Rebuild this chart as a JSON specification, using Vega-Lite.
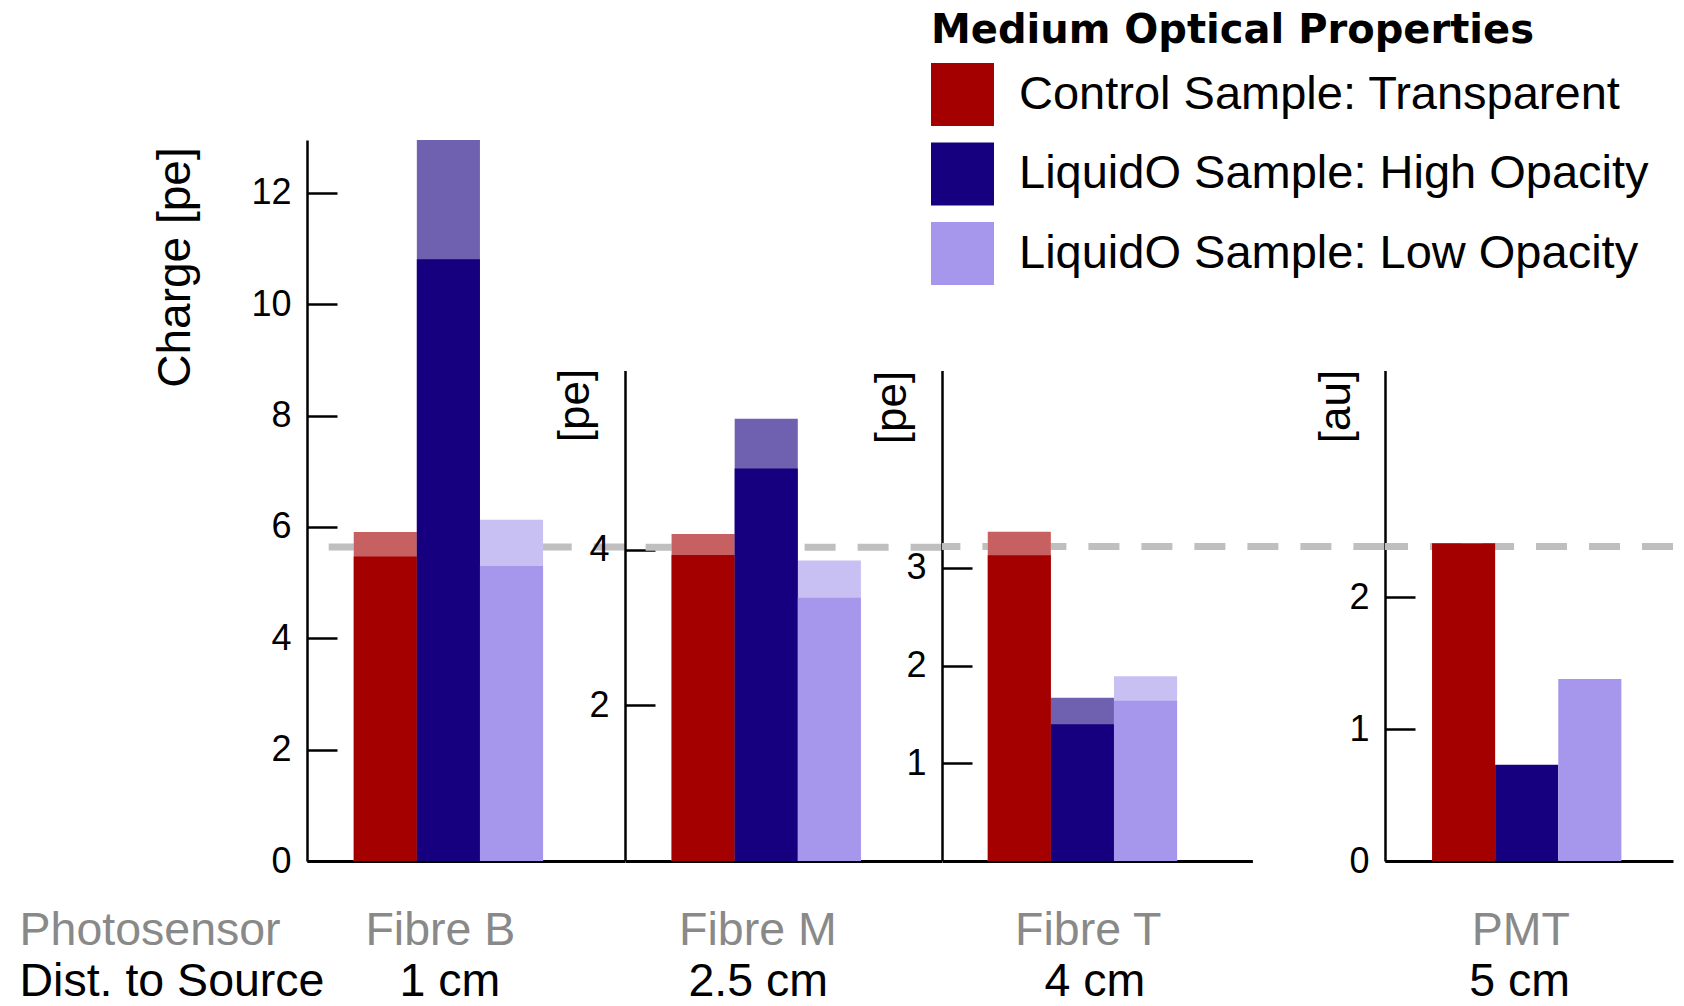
{
  "$schema": "https://vega.github.io/schema/vega-lite/v6.json",
  "padding": {"left": 16, "top": 11, "right": 0, "bottom": 0},
  "spacing": 0,
  "bounds": "flush",
  "datasets": {
    "bars": [
      {"sensor": "Fibre B", "sample": "Control Sample: Transparent", "charge": 5.47, "upper": 5.91},
      {"sensor": "Fibre B", "sample": "LiquidO Sample: High Opacity", "charge": 10.81, "upper": 13.0},
      {"sensor": "Fibre B", "sample": "LiquidO Sample: Low Opacity", "charge": 5.30, "upper": 6.13},
      {"sensor": "Fibre M", "sample": "Control Sample: Transparent", "charge": 3.93, "upper": 4.20},
      {"sensor": "Fibre M", "sample": "LiquidO Sample: High Opacity", "charge": 5.04, "upper": 5.68},
      {"sensor": "Fibre M", "sample": "LiquidO Sample: Low Opacity", "charge": 3.38, "upper": 3.86},
      {"sensor": "Fibre T", "sample": "Control Sample: Transparent", "charge": 3.13, "upper": 3.37},
      {"sensor": "Fibre T", "sample": "LiquidO Sample: High Opacity", "charge": 1.40, "upper": 1.67},
      {"sensor": "Fibre T", "sample": "LiquidO Sample: Low Opacity", "charge": 1.64, "upper": 1.89},
      {"sensor": "PMT", "sample": "Control Sample: Transparent", "charge": 2.41, "upper": null},
      {"sensor": "PMT", "sample": "LiquidO Sample: High Opacity", "charge": 0.73, "upper": null},
      {"sensor": "PMT", "sample": "LiquidO Sample: Low Opacity", "charge": 1.38, "upper": null}
    ],
    "ref": [
      {"sensor": "Fibre B", "level": 5.64},
      {"sensor": "Fibre M", "level": 4.03},
      {"sensor": "Fibre T", "level": 3.22},
      {"sensor": "PMT", "level": 2.385}
    ]
  },
  "hconcat": [
    {
      "width": 287.3,
      "height": 721,
      "data": {"values": [{"sensor": "Photosensor"}]},
      "mark": {"type": "point", "opacity": 0},
      "encoding": {
        "x": {"field": "sensor", "type": "nominal",
          "scale": {"type": "point", "padding": 0, "align": 0},
          "axis": {"domain": false, "labelAlign": "left", "title": "Dist. to Source", "titleX": 0, "titleAlign": "left"}}
      }
    },
    {
      "width": 317.7,
      "height": 721,
      "layer": [
        {
          "data": {"name": "ref"},
          "transform": [{"filter": "datum.sensor === 'Fibre B'"}],
          "mark": {"type": "rule", "color": "#bfbfbf", "strokeWidth": 7, "strokeDash": [31, 22]},
          "encoding": {
            "y": {"field": "level", "type": "quantitative", "scale": {"domain": [0, 12.95], "nice": false},
              "axis": {"values": [0, 2, 4, 6, 8, 10, 12], "format": "d", "title": "Charge [pe]", "titleX": -132, "titleY": 127, "titleFontSize": 46}}
          }
        },
        {
          "data": {"name": "bars"},
          "transform": [{"filter": "datum.sensor === 'Fibre B'"}],
          "mark": {"type": "bar", "clip": true, "color": "#ffffff"},
          "encoding": {
            "x": {"field": "sensor", "type": "nominal", "scale": {"paddingInner": 0, "paddingOuter": 0.339, "align": 0.364},
              "axis": {"title": "1 cm", "titleX": 142.3, "titleAlign": "center", "labelOffset": -8}},
            "xOffset": {"field": "sample", "type": "nominal", "scale": {"domain": ["Control Sample: Transparent", "LiquidO Sample: High Opacity", "LiquidO Sample: Low Opacity"], "paddingInner": 0, "paddingOuter": 0}},
            "y": {"field": "upper", "type": "quantitative", "scale": {"domain": [0, 12.95], "nice": false},
              "axis": {"values": [0, 2, 4, 6, 8, 10, 12], "format": "d", "title": "Charge [pe]", "titleX": -132, "titleY": 127, "titleFontSize": 46}}
          }
        },
        {
          "data": {"name": "bars"},
          "transform": [{"filter": "datum.sensor === 'Fibre B'"}],
          "mark": {"type": "bar", "clip": true, "opacity": 0.62},
          "encoding": {
            "x": {"field": "sensor", "type": "nominal", "scale": {"paddingInner": 0, "paddingOuter": 0.339, "align": 0.364},
              "axis": {"title": "1 cm", "titleX": 142.3, "titleAlign": "center", "labelOffset": -8}},
            "xOffset": {"field": "sample", "type": "nominal", "scale": {"domain": ["Control Sample: Transparent", "LiquidO Sample: High Opacity", "LiquidO Sample: Low Opacity"], "paddingInner": 0, "paddingOuter": 0}},
            "y": {"field": "upper", "type": "quantitative", "scale": {"domain": [0, 12.95], "nice": false},
              "axis": {"values": [0, 2, 4, 6, 8, 10, 12], "format": "d", "title": "Charge [pe]", "titleX": -132, "titleY": 127, "titleFontSize": 46}},
            "color": {"field": "sample", "type": "nominal", "title": "Medium Optical Properties",
              "scale": {"domain": ["Control Sample: Transparent", "LiquidO Sample: High Opacity", "LiquidO Sample: Low Opacity"], "range": ["#a50000", "#17007f", "#a797ec"]}}
          }
        },
        {
          "data": {"name": "bars"},
          "transform": [{"filter": "datum.sensor === 'Fibre B'"}],
          "mark": {"type": "bar", "clip": true},
          "encoding": {
            "x": {"field": "sensor", "type": "nominal", "scale": {"paddingInner": 0, "paddingOuter": 0.339, "align": 0.364},
              "axis": {"title": "1 cm", "titleX": 142.3, "titleAlign": "center", "labelOffset": -8}},
            "xOffset": {"field": "sample", "type": "nominal", "scale": {"domain": ["Control Sample: Transparent", "LiquidO Sample: High Opacity", "LiquidO Sample: Low Opacity"], "paddingInner": 0, "paddingOuter": 0}},
            "y": {"field": "charge", "type": "quantitative", "scale": {"domain": [0, 12.95], "nice": false},
              "axis": {"values": [0, 2, 4, 6, 8, 10, 12], "format": "d", "title": "Charge [pe]", "titleX": -132, "titleY": 127, "titleFontSize": 46}},
            "color": {"field": "sample", "type": "nominal", "title": "Medium Optical Properties",
              "scale": {"domain": ["Control Sample: Transparent", "LiquidO Sample: High Opacity", "LiquidO Sample: Low Opacity"], "range": ["#a50000", "#17007f", "#a797ec"]}}
          }
        }
      ]
    },
    {
      "width": 316.6,
      "height": 721,
      "layer": [
        {
          "data": {"name": "ref"},
          "transform": [{"filter": "datum.sensor === 'Fibre M'"}],
          "mark": {"type": "rule", "color": "#bfbfbf", "strokeWidth": 7, "strokeDash": [31, 22]},
          "encoding": {
            "y": {"field": "level", "type": "quantitative", "scale": {"domain": [0, 6.3], "nice": false, "range": [721, 230.5]},
              "axis": {"values": [2, 4], "format": "d", "title": "[pe]", "titleX": -50, "titleY": 265}}
          }
        },
        {
          "data": {"name": "bars"},
          "transform": [{"filter": "datum.sensor === 'Fibre M'"}],
          "mark": {"type": "bar", "color": "#ffffff"},
          "encoding": {
            "x": {"field": "sensor", "type": "nominal", "scale": {"paddingInner": 0, "paddingOuter": 0.339, "align": 0.364},
              "axis": {"title": "2.5 cm", "titleX": 132.7, "titleAlign": "center", "labelOffset": -8}},
            "xOffset": {"field": "sample", "type": "nominal", "scale": {"domain": ["Control Sample: Transparent", "LiquidO Sample: High Opacity", "LiquidO Sample: Low Opacity"], "paddingInner": 0, "paddingOuter": 0}},
            "y": {"field": "upper", "type": "quantitative", "scale": {"domain": [0, 6.3], "nice": false, "range": [721, 230.5]},
              "axis": {"values": [2, 4], "format": "d", "title": "[pe]", "titleX": -50, "titleY": 265}}
          }
        },
        {
          "data": {"name": "bars"},
          "transform": [{"filter": "datum.sensor === 'Fibre M'"}],
          "mark": {"type": "bar", "opacity": 0.62},
          "encoding": {
            "x": {"field": "sensor", "type": "nominal", "scale": {"paddingInner": 0, "paddingOuter": 0.339, "align": 0.364},
              "axis": {"title": "2.5 cm", "titleX": 132.7, "titleAlign": "center", "labelOffset": -8}},
            "xOffset": {"field": "sample", "type": "nominal", "scale": {"domain": ["Control Sample: Transparent", "LiquidO Sample: High Opacity", "LiquidO Sample: Low Opacity"], "paddingInner": 0, "paddingOuter": 0}},
            "y": {"field": "upper", "type": "quantitative", "scale": {"domain": [0, 6.3], "nice": false, "range": [721, 230.5]},
              "axis": {"values": [2, 4], "format": "d", "title": "[pe]", "titleX": -50, "titleY": 265}},
            "color": {"field": "sample", "type": "nominal", "title": "Medium Optical Properties",
              "scale": {"domain": ["Control Sample: Transparent", "LiquidO Sample: High Opacity", "LiquidO Sample: Low Opacity"], "range": ["#a50000", "#17007f", "#a797ec"]}}
          }
        },
        {
          "data": {"name": "bars"},
          "transform": [{"filter": "datum.sensor === 'Fibre M'"}],
          "mark": {"type": "bar"},
          "encoding": {
            "x": {"field": "sensor", "type": "nominal", "scale": {"paddingInner": 0, "paddingOuter": 0.339, "align": 0.364},
              "axis": {"title": "2.5 cm", "titleX": 132.7, "titleAlign": "center", "labelOffset": -8}},
            "xOffset": {"field": "sample", "type": "nominal", "scale": {"domain": ["Control Sample: Transparent", "LiquidO Sample: High Opacity", "LiquidO Sample: Low Opacity"], "paddingInner": 0, "paddingOuter": 0}},
            "y": {"field": "charge", "type": "quantitative", "scale": {"domain": [0, 6.3], "nice": false, "range": [721, 230.5]},
              "axis": {"values": [2, 4], "format": "d", "title": "[pe]", "titleX": -50, "titleY": 265}},
            "color": {"field": "sample", "type": "nominal", "title": "Medium Optical Properties",
              "scale": {"domain": ["Control Sample: Transparent", "LiquidO Sample: High Opacity", "LiquidO Sample: Low Opacity"], "range": ["#a50000", "#17007f", "#a797ec"]}}
          }
        }
      ]
    },
    {
      "width": 442.4,
      "height": 721,
      "layer": [
        {
          "data": {"name": "ref"},
          "transform": [{"filter": "datum.sensor === 'Fibre T'"}],
          "mark": {"type": "rule", "color": "#bfbfbf", "strokeWidth": 7, "strokeDash": [31, 22]},
          "encoding": {
            "y": {"field": "level", "type": "quantitative", "scale": {"domain": [0, 5.02], "nice": false, "range": [721, 230.5]},
              "axis": {"values": [1, 2, 3], "format": "d", "title": "[pe]", "titleX": -50, "titleY": 267}}
          }
        },
        {
          "data": {"name": "bars"},
          "transform": [{"filter": "datum.sensor === 'Fibre T'"}],
          "mark": {"type": "bar", "color": "#ffffff"},
          "encoding": {
            "x": {"field": "sensor", "type": "nominal", "scale": {"range": [0, 310.4], "paddingInner": 0, "paddingOuter": 0.321, "align": 0.377},
              "axis": {"title": "4 cm", "titleX": 152.4, "titleAlign": "center", "labelOffset": 6}},
            "xOffset": {"field": "sample", "type": "nominal", "scale": {"domain": ["Control Sample: Transparent", "LiquidO Sample: High Opacity", "LiquidO Sample: Low Opacity"], "paddingInner": 0, "paddingOuter": 0}},
            "y": {"field": "upper", "type": "quantitative", "scale": {"domain": [0, 5.02], "nice": false, "range": [721, 230.5]},
              "axis": {"values": [1, 2, 3], "format": "d", "title": "[pe]", "titleX": -50, "titleY": 267}}
          }
        },
        {
          "data": {"name": "bars"},
          "transform": [{"filter": "datum.sensor === 'Fibre T'"}],
          "mark": {"type": "bar", "opacity": 0.62},
          "encoding": {
            "x": {"field": "sensor", "type": "nominal", "scale": {"range": [0, 310.4], "paddingInner": 0, "paddingOuter": 0.321, "align": 0.377},
              "axis": {"title": "4 cm", "titleX": 152.4, "titleAlign": "center", "labelOffset": 6}},
            "xOffset": {"field": "sample", "type": "nominal", "scale": {"domain": ["Control Sample: Transparent", "LiquidO Sample: High Opacity", "LiquidO Sample: Low Opacity"], "paddingInner": 0, "paddingOuter": 0}},
            "y": {"field": "upper", "type": "quantitative", "scale": {"domain": [0, 5.02], "nice": false, "range": [721, 230.5]},
              "axis": {"values": [1, 2, 3], "format": "d", "title": "[pe]", "titleX": -50, "titleY": 267}},
            "color": {"field": "sample", "type": "nominal", "title": "Medium Optical Properties",
              "scale": {"domain": ["Control Sample: Transparent", "LiquidO Sample: High Opacity", "LiquidO Sample: Low Opacity"], "range": ["#a50000", "#17007f", "#a797ec"]}}
          }
        },
        {
          "data": {"name": "bars"},
          "transform": [{"filter": "datum.sensor === 'Fibre T'"}],
          "mark": {"type": "bar"},
          "encoding": {
            "x": {"field": "sensor", "type": "nominal", "scale": {"range": [0, 310.4], "paddingInner": 0, "paddingOuter": 0.321, "align": 0.377},
              "axis": {"title": "4 cm", "titleX": 152.4, "titleAlign": "center", "labelOffset": 6}},
            "xOffset": {"field": "sample", "type": "nominal", "scale": {"domain": ["Control Sample: Transparent", "LiquidO Sample: High Opacity", "LiquidO Sample: Low Opacity"], "paddingInner": 0, "paddingOuter": 0}},
            "y": {"field": "charge", "type": "quantitative", "scale": {"domain": [0, 5.02], "nice": false, "range": [721, 230.5]},
              "axis": {"values": [1, 2, 3], "format": "d", "title": "[pe]", "titleX": -50, "titleY": 267}},
            "color": {"field": "sample", "type": "nominal", "title": "Medium Optical Properties",
              "scale": {"domain": ["Control Sample: Transparent", "LiquidO Sample: High Opacity", "LiquidO Sample: Low Opacity"], "range": ["#a50000", "#17007f", "#a797ec"]}}
          }
        }
      ]
    },
    {
      "width": 288,
      "height": 721,
      "layer": [
        {
          "data": {"name": "ref"},
          "transform": [{"filter": "datum.sensor === 'PMT'"}],
          "mark": {"type": "rule", "color": "#bfbfbf", "strokeWidth": 7, "strokeDash": [31, 22]},
          "encoding": {
            "y": {"field": "level", "type": "quantitative", "scale": {"domain": [0, 3.72], "nice": false, "range": [721, 230.5]},
              "axis": {"values": [0, 1, 2], "format": "d", "title": "[au]", "titleX": -49, "titleY": 266}}
          }
        },
        {
          "data": {"name": "bars"},
          "transform": [{"filter": "datum.sensor === 'PMT'"}],
          "mark": {"type": "bar"},
          "encoding": {
            "x": {"field": "sensor", "type": "nominal", "scale": {"paddingInner": 0, "paddingOuter": 0.2595, "align": 0.478},
              "axis": {"title": "5 cm", "titleX": 134, "titleAlign": "center", "labelOffset": -6}},
            "xOffset": {"field": "sample", "type": "nominal", "scale": {"domain": ["Control Sample: Transparent", "LiquidO Sample: High Opacity", "LiquidO Sample: Low Opacity"], "paddingInner": 0, "paddingOuter": 0}},
            "y": {"field": "charge", "type": "quantitative", "scale": {"domain": [0, 3.72], "nice": false, "range": [721, 230.5]},
              "axis": {"values": [0, 1, 2], "format": "d", "title": "[au]", "titleX": -49, "titleY": 266}},
            "color": {"field": "sample", "type": "nominal", "title": "Medium Optical Properties",
              "scale": {"domain": ["Control Sample: Transparent", "LiquidO Sample: High Opacity", "LiquidO Sample: Low Opacity"], "range": ["#a50000", "#17007f", "#a797ec"]}}
          }
        }
      ]
    }
  ],
  "config": {
    "view": {"stroke": null},
    "font": "Liberation Sans",
    "axis": {
      "grid": false,
      "labelFont": "Liberation Sans",
      "titleFont": "Liberation Sans",
      "titleFontWeight": "normal",
      "domainColor": "#000000",
      "tickColor": "#000000",
      "labelColor": "#000000",
      "titleColor": "#000000",
      "labelLimit": 1000,
      "titleLimit": 1000
    },
    "axisY": {
      "domainWidth": 2.5,
      "tickWidth": 2.5,
      "tickSize": -30,
      "labelPadding": 46,
      "labelFontSize": 36,
      "titleFontSize": 44,
      "titleAngle": 270,
      "titleAlign": "center",
      "titleBaseline": "middle"
    },
    "axisX": {
      "domainWidth": 3,
      "ticks": false,
      "labelAngle": 0,
      "labelFontSize": 46.5,
      "labelColor": "#898989",
      "labelPadding": 46,
      "titleFontSize": 46.5,
      "titleY": 97,
      "titleBaseline": "top",
      "zindex": 1
    },
    "legend": {
      "orient": "none",
      "legendX": 912,
      "legendY": -129,
      "padding": 0,
      "symbolType": "square",
      "symbolSize": 3969,
      "symbolStrokeWidth": 0,
      "symbolOpacity": 1,
      "labelFont": "Liberation Sans",
      "labelFontSize": 47,
      "labelColor": "#000000",
      "labelOffset": 25,
      "labelLimit": 1000,
      "rowPadding": 16.5,
      "titleFont": "DejaVu Sans",
      "titleFontSize": 40,
      "titleFontWeight": "bold",
      "titleColor": "#000000",
      "titlePadding": 12,
      "titleLimit": 1000
    }
  }
}
